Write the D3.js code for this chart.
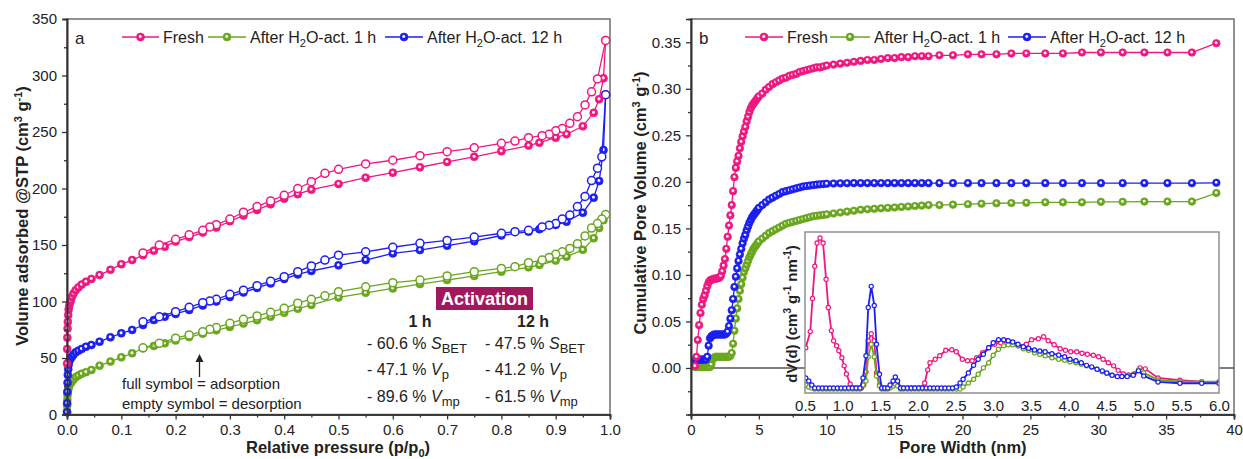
<!DOCTYPE html>
<html><head><meta charset="utf-8">
<script src="https://cdn.jsdelivr.net/npm/d3@7"></script>
<style>
body{margin:0;background:#fff}
svg{display:block}
text{font-family:"Liberation Sans",Arial,Helvetica,sans-serif;fill:#222}
</style>
</head><body>
<svg id="c" width="1243" height="459"></svg>
<script>
// ---------- Panel a: N2 isotherms ----------
const pAds = [0.0001,0.0003,0.0006,0.001,0.0015,0.0022,0.003,0.004,0.0055,0.007,
  0.009,0.012,0.016,0.021,0.027,0.035,0.045,0.06,0.08,0.1,
  0.12,0.14,0.16,0.18,0.2,0.225,0.25,0.275,0.3,0.325,
  0.35,0.375,0.4,0.425,0.45,0.5,0.55,0.6,0.65,0.7,
  0.75,0.8,0.85,0.87,0.9,0.92,0.95,0.97,0.98,0.988,0.992];
const freshAds = [45,58,68,76,82,88,93,96,99,101,
  104,107,110,112.5,115,117.5,120,123.4,128,133,
  136.7,141,145,148.5,153,157,161,165.5,171,176,
  181,186,191,195,199,204,209.6,214,218.8,223.5,
  228,233,238,240.5,245,248,255,267,279,297.5,331];
const h1Ads = [3,8,13,17,20,22,24,26,27,28,
  29,31,33,34.5,36,37.5,39.4,43.2,46.8,50.6,
  54.2,58.6,60.7,63,65.5,68.5,71.5,74.5,77.5,80.5,
  83.5,86.5,90,93.5,97,103.6,107.7,111.6,115.4,119,
  122.6,126.4,130.2,132.3,136.2,139.7,145.7,156,165,172,177];
const h12Ads = [2,10,20,28,35,40,44,47,49,50,
  51,53,55,56.5,58,60,61.5,64.4,68.3,71.9,
  74.8,79.2,83.6,86.5,89,92.5,96.5,100,104,108,
  112,116,120,124,127,132,136.7,142.6,145.5,149.4,
  153.4,158.4,161.8,164,167.8,170.6,178.6,191.9,206.6,234,283];
const pDes = [0.992,0.985,0.977,0.966,0.954,0.94,0.926,0.912,0.9,0.888,
  0.875,0.85,0.825,0.8,0.75,0.7,0.65,0.6,0.55,0.5,
  0.475,0.45,0.425,0.4,0.375,0.35,0.325,0.3,0.275,0.263,
  0.25,0.225,0.2,0.17,0.14];
const freshDes = [331,null,297,285.6,274,263.5,257.7,253,251,248,
  246.7,245,242,240,236,232.6,229,225,221.7,217,
  213.4,206,200,194,189,184,179,173,168,166,
  163,159,155,150,143];
const h1Des = [177,173,169,165,158,151,147,144,141.8,139,
  136.7,134.4,130.8,129.3,126.4,122.6,119,116.7,113,108.7,
  105,102,98.5,94,90.5,87.2,84.3,80.7,76.9,75.4,
  73.3,70.4,67.5,63,59];
const h12Des = [283,228,218,207,193,184,176.5,173,169,167.5,
  166,163,161.8,160.4,157,154,151.5,148,144,141,
  136.7,131.5,126.4,122,118,114,110,106.4,102,100.4,
  99,94.9,91,86.5,82];

// ---------- Panel b: cumulative pore volume ----------
const poreW = [0.3,0.4,0.5,0.6,0.7,0.8,0.9,1.0,1.1,1.2,
  1.3,1.4,1.5,1.6,1.7,1.8,1.9,2.0,2.1,2.2,
  2.3,2.4,2.5,2.6,2.7,2.8,2.9,3.0,3.1,3.2,
  3.3,3.4,3.5,3.6,3.7,3.8,3.9,4.0,4.1,4.2,
  4.3,4.4,4.5,4.6,4.7,4.8,4.9,5.0,5.25,5.5,
  5.75,6.0,6.25,6.5,6.75,7.0,7.25,7.5,7.75,8.0,
  8.25,8.5,8.75,9.0,9.25,9.5,9.75,10.0,10.5,11,
  11.5,12,12.5,13,13.5,14,14.5,15,15.5,16,
  16.5,17,17.5,18.3,19.3,20.4,21.4,22.5,23.6,24.7,
  26.1,27.4,28.8,30.2,31.8,33.4,35.1,36.9,38.7];
const cumFresh = [0.002,0.012,0.030,0.046,0.059,0.068,0.074,0.078,0.083,0.088,
  0.092,0.094,0.095,0.095,0.096,0.096,0.096,0.097,0.097,0.099,
  0.104,0.110,0.117,0.128,0.141,0.153,0.164,0.175,0.190,0.205,
  0.215,0.222,0.228,0.236,0.243,0.249,0.254,0.259,0.265,0.270,
  0.275,0.279,0.282,0.284,0.286,0.288,0.290,0.292,0.295,0.299,
  0.302,0.305,0.307,0.309,0.311,0.312,0.314,0.315,0.316,0.318,
  0.319,0.320,0.321,0.322,0.323,0.323,0.324,0.325,0.326,0.327,
  0.328,0.329,0.330,0.331,0.331,0.332,0.333,0.333,0.334,0.334,
  0.335,0.335,0.335,0.336,0.336,0.337,0.337,0.337,0.338,0.338,
  0.338,0.338,0.339,0.339,0.339,0.339,0.339,0.339,0.349];
const cumH1 = [0.001,0.001,0.001,0.001,0.001,0.001,0.001,0.001,0.001,0.001,
  0.001,0.001,0.004,0.009,0.011,0.012,0.012,0.012,0.012,0.012,
  0.012,0.012,0.012,0.012,0.012,0.012,0.013,0.016,0.026,0.040,
  0.053,0.064,0.074,0.083,0.090,0.097,0.103,0.107,0.111,0.115,
  0.119,0.122,0.125,0.128,0.130,0.132,0.134,0.136,0.139,0.142,
  0.145,0.147,0.149,0.151,0.153,0.155,0.156,0.157,0.158,0.159,
  0.160,0.161,0.162,0.163,0.1635,0.164,0.1645,0.165,0.166,0.167,
  0.168,0.169,0.170,0.1705,0.171,0.1715,0.172,0.1725,0.173,0.1735,
  0.174,0.1745,0.175,0.175,0.1755,0.176,0.1765,0.177,0.1772,0.1775,
  0.178,0.178,0.178,0.1785,0.1785,0.1788,0.1788,0.1788,0.188];
const cumH12 = [0.008,0.009,0.009,0.009,0.009,0.009,0.009,0.009,0.009,0.012,
  0.024,0.032,0.034,0.035,0.036,0.036,0.036,0.036,0.036,0.036,
  0.036,0.036,0.036,0.037,0.039,0.045,0.053,0.062,0.074,0.087,
  0.098,0.107,0.115,0.122,0.128,0.134,0.139,0.143,0.148,0.152,
  0.156,0.159,0.162,0.164,0.166,0.168,0.170,0.172,0.175,0.178,
  0.181,0.183,0.185,0.187,0.189,0.190,0.191,0.192,0.193,0.194,
  0.195,0.1955,0.196,0.1965,0.197,0.1973,0.1976,0.198,0.1982,0.1984,
  0.1985,0.1986,0.1986,0.1986,0.1986,0.1986,0.1986,0.1986,0.1986,0.1986,
  0.1986,0.1986,0.1986,0.1986,0.1986,0.1986,0.1986,0.1986,0.1986,0.1986,
  0.1986,0.1986,0.1986,0.1986,0.1986,0.1986,0.1986,0.1986,0.199];

// ---------- Inset: pore size distribution [width nm, dV(d)] ----------
const psdFresh = [[0.51,0.040],[0.57,0.056],[0.60,0.089],[0.63,0.121],[0.66,0.144],[0.70,0.149],[0.74,0.144],[0.78,0.108],[0.81,0.080],[0.85,0.057],
  [0.88,0.047],[0.92,0.042],[0.95,0.037],[0.99,0.030],[1.02,0.022],[1.05,0.014],[1.10,0.004],[1.13,0.0],[1.17,0.0],[1.21,0.0],
  [1.25,0.0],[1.28,0.003],[1.31,0.016],[1.34,0.047],[1.38,0.054],[1.42,0.047],[1.45,0.015],[1.49,0.003],[1.52,0.0],[1.56,0.0],
  [1.60,0.0],[1.63,0.001],[1.67,0.003],[1.70,0.005],[1.73,0.003],[1.77,0.0],[1.81,0.0],[1.86,0.0],[1.91,0.0],[1.96,0.0],
  [2.01,0.0],[2.05,0.0],[2.09,0.005],[2.13,0.018],[2.16,0.025],[2.23,0.0285],[2.29,0.032],[2.37,0.0375],[2.45,0.038],[2.51,0.036],
  [2.59,0.0285],[2.66,0.027],[2.72,0.027],[2.78,0.030],[2.86,0.035],[2.94,0.040],[3.02,0.0435],[3.10,0.045],[3.17,0.047],[3.25,0.045],
  [3.33,0.042],[3.44,0.0435],[3.51,0.048],[3.60,0.049],[3.67,0.051],[3.73,0.047],[3.81,0.043],[3.89,0.039],[3.96,0.0375],[4.03,0.036],
  [4.11,0.036],[4.18,0.0345],[4.25,0.0335],[4.33,0.0325],[4.40,0.031],[4.46,0.0285],[4.53,0.025],[4.60,0.022],[4.66,0.0175],[4.73,0.014],
  [4.80,0.013],[4.87,0.014],[4.95,0.020],[5.02,0.019],[5.19,0.010],[5.48,0.0077],[5.77,0.0063],[6.0,0.006]];
const psdH1 = [[0.51,0.003],[0.55,0.001],[0.59,0.0],[0.63,-0.001],[0.68,-0.001],[0.73,-0.001],[0.78,-0.001],[0.83,-0.001],[0.88,-0.001],[0.93,-0.001],
  [0.98,-0.001],[1.03,-0.001],[1.08,-0.001],[1.13,-0.001],[1.18,-0.001],[1.23,-0.001],[1.27,0.003],[1.31,0.007],[1.34,0.031],[1.38,0.0435],
  [1.42,0.031],[1.45,0.012],[1.49,0.002],[1.52,-0.001],[1.56,-0.001],[1.60,-0.001],[1.63,0.0],[1.67,0.002],[1.70,0.004],[1.73,0.002],
  [1.77,-0.001],[1.81,-0.001],[1.86,-0.001],[1.91,-0.001],[1.96,-0.001],[2.01,-0.001],[2.06,-0.001],[2.11,-0.001],[2.16,-0.001],[2.21,-0.001],
  [2.26,-0.001],[2.31,-0.001],[2.36,-0.001],[2.41,-0.001],[2.46,-0.001],[2.51,-0.001],[2.56,-0.001],[2.60,0.001],[2.67,0.005],[2.74,0.0086],
  [2.80,0.0136],[2.87,0.020],[2.94,0.025],[3.00,0.0325],[3.07,0.0385],[3.14,0.042],[3.20,0.043],[3.26,0.043],[3.33,0.042],[3.40,0.039],
  [3.47,0.0375],[3.55,0.035],[3.62,0.0335],[3.69,0.032],[3.78,0.030],[3.87,0.0285],[3.95,0.0275],[4.02,0.026],[4.10,0.025],[4.17,0.0235],
  [4.24,0.022],[4.31,0.0205],[4.38,0.0186],[4.45,0.016],[4.51,0.0145],[4.58,0.0126],[4.65,0.0115],[4.71,0.0115],[4.78,0.012],[4.86,0.013],
  [4.93,0.018],[5.00,0.015],[5.19,0.008],[5.48,0.0063],[5.77,0.0063],[6.0,0.0063]];
const psdH12 = [[0.51,0.010],[0.55,0.007],[0.59,0.003],[0.63,0.0],[0.68,0.0],[0.73,0.0],[0.78,0.0],[0.83,0.0],[0.88,0.0],[0.93,0.0],
  [0.98,0.0],[1.03,0.0],[1.08,0.0],[1.13,0.0],[1.18,0.0],[1.23,0.0],[1.27,0.010],[1.31,0.032],[1.34,0.080],[1.38,0.101],
  [1.42,0.082],[1.45,0.0435],[1.49,0.0136],[1.52,0.0],[1.56,0.0],[1.60,0.0],[1.63,0.003],[1.67,0.007],[1.70,0.011],[1.73,0.007],
  [1.77,0.0],[1.81,0.0],[1.86,0.0],[1.91,0.0],[1.96,0.0],[2.01,0.0],[2.06,0.0],[2.11,0.0],[2.16,0.0],[2.21,0.0],
  [2.26,0.0],[2.31,0.0],[2.36,0.0],[2.41,0.0],[2.46,0.0],[2.51,0.001],[2.56,0.005],[2.60,0.0086],[2.67,0.015],[2.74,0.0225],
  [2.80,0.0285],[2.87,0.0335],[2.94,0.040],[3.00,0.045],[3.07,0.048],[3.14,0.048],[3.20,0.047],[3.26,0.0457],[3.33,0.0435],[3.40,0.041],
  [3.47,0.0395],[3.55,0.0378],[3.62,0.0368],[3.69,0.036],[3.78,0.034],[3.87,0.0328],[3.95,0.031],[4.02,0.0285],[4.10,0.027],[4.17,0.025],
  [4.24,0.0225],[4.31,0.021],[4.38,0.0186],[4.45,0.017],[4.51,0.015],[4.58,0.0126],[4.65,0.0115],[4.71,0.0115],[4.78,0.0115],[4.86,0.0126],
  [4.93,0.017],[5.00,0.012],[5.19,0.006],[5.48,0.0047],[5.77,0.0047],[6.0,0.0047]];

// ---------- ticks ----------
const aXTicks = [0,0.1,0.2,0.3,0.4,0.5,0.6,0.7,0.8,0.9,1.0];
const aYTicks = [0,50,100,150,200,250,300,350];
const bXTicks = [0,5,10,15,20,25,30,35,40];
const bYTicks = [0,0.05,0.10,0.15,0.20,0.25,0.30,0.35];
const iXTicks = [0.5,1.0,1.5,2.0,2.5,3.0,3.5,4.0,4.5,5.0,5.5,6.0];

const COL = {fresh:'#f0177f', h1:'#6aa61e', h12:'#1b1ff2'};
const svg = d3.select('#c');
const defs = svg.append('defs');
Object.entries(COL).forEach(([k,c])=>{
  const g = defs.append('radialGradient').attr('id','ball-'+k)
    .attr('cx','0.5').attr('cy','0.5').attr('r','0.5').attr('fx','0.45').attr('fy','0.4');
  g.append('stop').attr('offset','0').attr('stop-color','#fff');
  g.append('stop').attr('offset','0.22').attr('stop-color','#fff');
  g.append('stop').attr('offset','0.5').attr('stop-color',c);
  g.append('stop').attr('offset','1').attr('stop-color',c);
});

function styleAxis(g, fs){
  g.selectAll('path.domain').attr('stroke','#333').attr('stroke-width',1.6);
  g.selectAll('.tick line').attr('stroke','#333').attr('stroke-width',1.3);
  g.selectAll('.tick text').attr('font-size',fs).attr('fill','#222')
    .attr('font-family','"Liberation Sans",Arial,sans-serif');
}
function minor(vals, step){ // tick positions halfway between majors
  const out=[]; for(let i=0;i<vals.length-1;i++) out.push((vals[i]+vals[i+1])/2); return out;
}

// ================= PANEL A =================
const xa = d3.scaleLinear().domain([0,1]).range([67,610]);
const ya = d3.scaleLinear().domain([0,350]).range([414.5,19]);
svg.append('rect').attr('x',67).attr('y',19).attr('width',543).attr('height',395.5)
  .attr('fill','none').attr('stroke','#6d6d6d').attr('stroke-width',1.5);

const ga = svg.append('g');
function drawIso(p, v, key, filled){
  const pts = p.map((d,i)=>[d,v[i]]).filter(d=>d[1]!=null);
  ga.append('path').datum(pts)
    .attr('d', d3.line().x(d=>xa(d[0])).y(d=>ya(d[1])))
    .attr('fill','none').attr('stroke',COL[key]).attr('stroke-width',1.3);
  ga.append('g').selectAll('circle').data(pts).join('circle')
    .attr('cx',d=>xa(d[0])).attr('cy',d=>ya(d[1])).attr('r',4)
    .attr('fill', filled ? `url(#ball-${key})` : '#fff')
    .attr('stroke', COL[key]).attr('stroke-width', filled?0.6:1.5);
}
drawIso(pAds,h1Ads,'h1',true);  drawIso(pDes,h1Des,'h1',false);
drawIso(pAds,h12Ads,'h12',true); drawIso(pDes,h12Des,'h12',false);
drawIso(pAds,freshAds,'fresh',true); drawIso(pDes,freshDes,'fresh',false);

let ax = svg.append('g').attr('transform','translate(0,414.5)')
  .call(d3.axisBottom(xa).tickValues(aXTicks).tickFormat(d3.format('.1f')).tickSize(5).tickPadding(5));
styleAxis(ax,15);
let axm = svg.append('g').attr('transform','translate(0,414.5)')
  .call(d3.axisBottom(xa).tickValues(minor(aXTicks)).tickFormat('').tickSize(3));
styleAxis(axm,15);
let ay = svg.append('g').attr('transform','translate(67,0)')
  .call(d3.axisLeft(ya).tickValues(aYTicks).tickSize(5).tickPadding(5));
styleAxis(ay,15);
let aym = svg.append('g').attr('transform','translate(67,0)')
  .call(d3.axisLeft(ya).tickValues(minor(aYTicks)).tickFormat('').tickSize(3));
styleAxis(aym,15);

// titles
const ytA = svg.append('text').attr('transform','translate(28,216) rotate(-90)')
  .attr('text-anchor','middle').attr('font-size',16.5).attr('font-weight','bold');
ytA.append('tspan').text('Volume adsorbed @STP (cm');
ytA.append('tspan').attr('font-size',11).attr('dy',-6).text('3');
ytA.append('tspan').attr('dy',6).text(' g');
ytA.append('tspan').attr('font-size',11).attr('dy',-6).text('-1');
ytA.append('tspan').attr('dy',6).text(')');
const xtA = svg.append('text').attr('x',338).attr('y',453).attr('text-anchor','middle')
  .attr('font-size',16.5).attr('font-weight','bold');
xtA.append('tspan').text('Relative pressure (p/p');
xtA.append('tspan').attr('font-size',11).attr('dy',4).text('0');
xtA.append('tspan').attr('dy',-4).text(')');

svg.append('text').attr('x',75).attr('y',44).attr('font-size',17).text('a');

// legend helper
function legend(items){
  items.forEach(it=>{
    svg.append('line').attr('x1',it.x0).attr('x2',it.x1).attr('y1',37).attr('y2',37)
      .attr('stroke',COL[it.key]).attr('stroke-width',1.5);
    svg.append('circle').attr('cx',(it.x0+it.x1)/2).attr('cy',37).attr('r',4)
      .attr('fill',`url(#ball-${it.key})`).attr('stroke',COL[it.key]).attr('stroke-width',0.6);
    const t = svg.append('text').attr('x',it.tx).attr('y',43).attr('font-size',16);
    if(it.sub){
      t.append('tspan').text('After H');
      t.append('tspan').attr('font-size',11).attr('dy',4).text('2');
      t.append('tspan').attr('dy',-4).text(it.label);
    } else t.text(it.label);
  });
}
legend([{key:'fresh',x0:122,x1:159,tx:163,label:'Fresh'},
        {key:'h1',x0:208,x1:246,tx:250,label:'O-act. 1 h',sub:true},
        {key:'h12',x0:385,x1:423,tx:427,label:'O-act. 12 h',sub:true}]);

// annotations
svg.append('rect').attr('x',436).attr('y',287).attr('width',97).attr('height',23).attr('fill','#a1195c');
svg.append('text').attr('x',484.5).attr('y',305).attr('text-anchor','middle').attr('font-size',18)
  .attr('font-weight','bold').style('fill','#fff').text('Activation');
svg.append('text').attr('x',420).attr('y',327).attr('text-anchor','middle').attr('font-size',16).attr('font-weight','bold').text('1 h');
svg.append('text').attr('x',533).attr('y',327).attr('text-anchor','middle').attr('font-size',16).attr('font-weight','bold').text('12 h');
const changes = [
  {x:367,y:349,v:'- 60.6 % ',sym:'S',sub:'BET'},
  {x:367,y:375,v:'- 47.1 % ',sym:'V',sub:'p'},
  {x:367,y:402,v:'- 89.6 % ',sym:'V',sub:'mp'},
  {x:485,y:349,v:'- 47.5 % ',sym:'S',sub:'BET'},
  {x:485,y:375,v:'- 41.2 % ',sym:'V',sub:'p'},
  {x:485,y:402,v:'- 61.5 % ',sym:'V',sub:'mp'}];
changes.forEach(c=>{
  const t = svg.append('text').attr('x',c.x).attr('y',c.y).attr('font-size',16);
  t.append('tspan').text(c.v);
  t.append('tspan').attr('font-style','italic').text(c.sym);
  t.append('tspan').attr('font-size',13).attr('dy',4).text(c.sub);
});
svg.append('line').attr('x1',199.5).attr('x2',199.5).attr('y1',377).attr('y2',360)
  .attr('stroke','#222').attr('stroke-width',1.3);
svg.append('path').attr('d','M199.5,354 L195.5,362 L203.5,362 Z').attr('fill','#222');
svg.append('text').attr('x',122).attr('y',389).attr('font-size',15).text('full symbol = adsorption');
svg.append('text').attr('x',122).attr('y',409).attr('font-size',15).text('empty symbol = desorption');

// ================= PANEL B =================
const xb = d3.scaleLinear().domain([0,40]).range([691,1234]);
const yb = d3.scaleLinear().domain([-0.05,0.375]).range([414.5,19]);
svg.append('rect').attr('x',691).attr('y',19).attr('width',543).attr('height',395.5)
  .attr('fill','none').attr('stroke','#6d6d6d').attr('stroke-width',1.5);
svg.append('line').attr('x1',xb(0)).attr('x2',xb(40)).attr('y1',yb(0)).attr('y2',yb(0))
  .attr('stroke','#555').attr('stroke-width',1.5);

const gb = svg.append('g');
function drawCum(v,key){
  const pts = poreW.map((w,i)=>[w,v[i]]).filter(d=>d[1]!=null);
  gb.append('path').datum(pts).attr('d',d3.line().x(d=>xb(d[0])).y(d=>yb(d[1])))
    .attr('fill','none').attr('stroke',COL[key]).attr('stroke-width',1.3);
  gb.append('g').selectAll('circle').data(pts).join('circle')
    .attr('cx',d=>xb(d[0])).attr('cy',d=>yb(d[1])).attr('r',3.8)
    .attr('fill',`url(#ball-${key})`).attr('stroke',COL[key]).attr('stroke-width',0.6);
}
drawCum(cumH1,'h1'); drawCum(cumH12,'h12'); drawCum(cumFresh,'fresh');

let bx = svg.append('g').attr('transform','translate(0,414.5)')
  .call(d3.axisBottom(xb).tickValues(bXTicks).tickSize(5).tickPadding(5));
styleAxis(bx,15);
let bxm = svg.append('g').attr('transform','translate(0,414.5)')
  .call(d3.axisBottom(xb).tickValues(minor(bXTicks)).tickFormat('').tickSize(3));
styleAxis(bxm,15);
let by = svg.append('g').attr('transform','translate(691,0)')
  .call(d3.axisLeft(yb).tickValues(bYTicks).tickFormat(d3.format('.2f')).tickSize(5).tickPadding(5));
styleAxis(by,15);
let bym = svg.append('g').attr('transform','translate(691,0)')
  .call(d3.axisLeft(yb).tickValues([-0.025].concat(minor(bYTicks))).tickFormat('').tickSize(3));
styleAxis(bym,15);

const ytB = svg.append('text').attr('transform','translate(646,203) rotate(-90)')
  .attr('text-anchor','middle').attr('font-size',16.5).attr('font-weight','bold');
ytB.append('tspan').text('Cumulative Pore Volume (cm');
ytB.append('tspan').attr('font-size',11).attr('dy',-6).text('3');
ytB.append('tspan').attr('dy',6).text(' g');
ytB.append('tspan').attr('font-size',11).attr('dy',-6).text('-1');
ytB.append('tspan').attr('dy',6).text(')');
svg.append('text').attr('x',963).attr('y',453).attr('text-anchor','middle')
  .attr('font-size',16.5).attr('font-weight','bold').text('Pore Width (nm)');
svg.append('text').attr('x',699).attr('y',44).attr('font-size',17).text('b');

legend([{key:'fresh',x0:745,x1:783,tx:787,label:'Fresh'},
        {key:'h1',x0:830,x1:870,tx:874,label:'O-act. 1 h',sub:true},
        {key:'h12',x0:1008,x1:1046,tx:1050,label:'O-act. 12 h',sub:true}]);

// ---------- inset ----------
const xi = d3.scaleLinear().domain([0.5,6.0]).range([805,1219]);
const yi = d3.scaleLinear().domain([-0.005,0.155]).range([393,232]);
svg.append('rect').attr('x',805).attr('y',232).attr('width',414).attr('height',161).attr('fill','#fff');
defs.append('clipPath').attr('id','inclip').append('rect').attr('x',805).attr('y',232).attr('width',414).attr('height',161);
const gi = svg.append('g').attr('clip-path','url(#inclip)');
function drawPsd(data,key){
  gi.append('path').datum(data).attr('d',d3.line().x(d=>xi(d[0])).y(d=>yi(d[1])))
    .attr('fill','none').attr('stroke',COL[key]).attr('stroke-width',1.8);
  gi.append('g').selectAll('circle').data(data).join('circle')
    .attr('cx',d=>xi(d[0])).attr('cy',d=>yi(d[1])).attr('r',2.1)
    .attr('fill','#fff').attr('stroke',COL[key]).attr('stroke-width',1.2);
}
drawPsd(psdFresh,'fresh'); drawPsd(psdH1,'h1'); drawPsd(psdH12,'h12');
svg.append('rect').attr('x',805).attr('y',232).attr('width',414).attr('height',161)
  .attr('fill','none').attr('stroke','#888').attr('stroke-width',1.4);
let ix = svg.append('g').attr('transform','translate(0,393)')
  .call(d3.axisBottom(xi).tickValues(iXTicks).tickFormat(d3.format('.1f')).tickSize(0).tickPadding(7));
ix.select('path.domain').remove();
styleAxis(ix,15);
const ytI = svg.append('text').attr('transform','translate(797,314) rotate(-90)')
  .attr('text-anchor','middle').attr('font-size',15).attr('font-weight','bold');
ytI.append('tspan').text('dV(d) (cm');
ytI.append('tspan').attr('font-size',10).attr('dy',-6).text('3');
ytI.append('tspan').attr('dy',6).text(' g');
ytI.append('tspan').attr('font-size',10).attr('dy',-6).text('-1');
ytI.append('tspan').attr('dy',6).text(' nm');
ytI.append('tspan').attr('font-size',10).attr('dy',-6).text('-1');
ytI.append('tspan').attr('dy',6).text(')');
</script>
</body></html>
